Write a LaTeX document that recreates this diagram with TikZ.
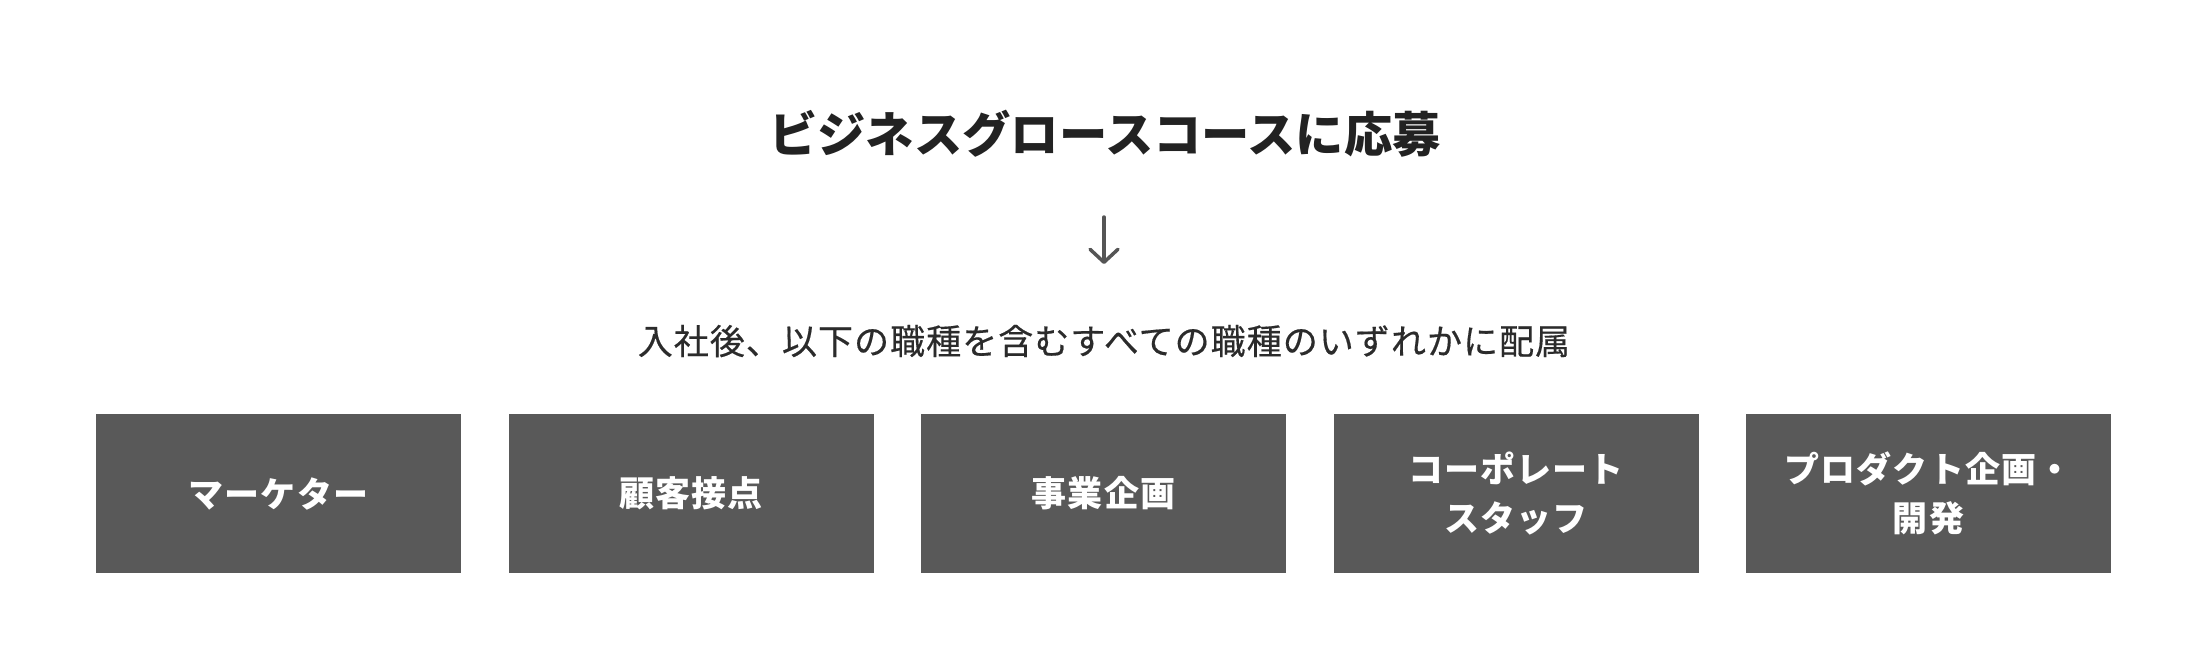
\documentclass[tikz,border=0pt]{standalone}
\usepackage{fontspec}
\usetikzlibrary{arrows.meta}
\newfontfamily\jpfont{Noto Sans CJK JP}
\newfontfamily\jpsub[LetterSpace=3, FakeBold=0.4]{Noto Sans CJK JP}
\newfontfamily\jpbox[LetterSpace=3]{Noto Sans CJK JP}
\definecolor{boxgray}{HTML}{595959}
\definecolor{titlecol}{HTML}{222222}
\definecolor{subcol}{HTML}{2B2B2B}
\definecolor{arrowcol}{HTML}{555555}
\tikzset{
  titletext/.style={inner sep=0pt, text=titlecol, font=\jpfont\bfseries\fontsize{48.3}{56}\selectfont},
  subtext/.style={inner sep=0pt, text=subcol, font=\jpsub\fontsize{35}{48}\selectfont},
  rolebox/.style={fill=boxgray, draw=none, minimum width=365pt, minimum height=159pt, inner sep=0pt,
    text=white, align=center, font=\jpbox\bfseries\fontsize{35}{49}\selectfont},
  downarrow/.style={draw=arrowcol, line width=3.5pt, line cap=round,
    -{Straight Barb[length=13pt, width=28pt, line cap=round, line join=round]}}
}
\begin{document}
\begin{tikzpicture}[x=1pt, y=-1pt]
\useasboundingbox (0,0) rectangle (2208,670);
\node[titletext] (title) at (1105,134) {ビジネスグロースコースに応募};
\coordinate (atop) at (1104,217);
\coordinate (abot) at (1104,264);
\draw[downarrow] (atop) -- (abot);
\node[subtext] (sub) at (1104,341) {入社後、以下の職種を含むすべての職種のいずれかに配属};
\node[rolebox] (r1) at (278.5,493.5) {マーケター};
\node[rolebox] (r2) at (691,493.5) {顧客接点};
\node[rolebox] (r3) at (1103.5,493.5) {事業企画};
\node[rolebox] (r4) at (1516,493.5) {コーポレート\\スタッフ};
\node[rolebox] (r5) at (1928.5,493.5) {プロダクト企画・\\開発};
\end{tikzpicture}
\end{document}
